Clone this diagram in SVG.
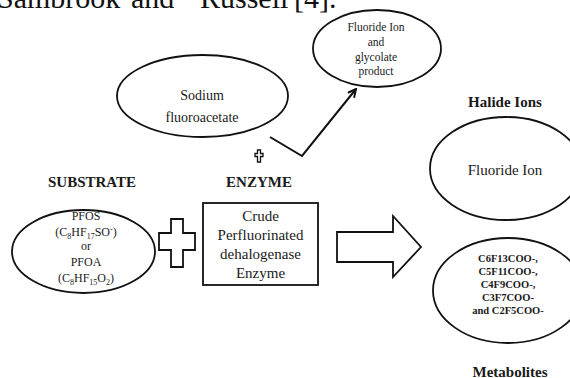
<svg xmlns="http://www.w3.org/2000/svg" width="570" height="378" viewBox="0 0 570 378">
<defs>
<style>
text{font-family:"Liberation Serif","Times New Roman",serif;fill:#1a1a1a;text-anchor:middle}
.shape{fill:#fff;stroke:#111;stroke-width:1.8}
.hdr{font-weight:bold;font-size:15px}
.t14{font-size:14px}
.t12{font-size:12px}
.t11{font-size:11.5px}
.t15{font-size:15px}
.met{font-size:10.5px;font-weight:bold}
.sub{font-size:8px}
.line{fill:none;stroke:#111;stroke-width:2}
</style>
<marker id="open" viewBox="0 0 10 10" refX="9" refY="5" markerWidth="5" markerHeight="5" orient="auto" markerUnits="strokeWidth">
<path d="M1,1 L9,5 L1,9" fill="none" stroke="#111" stroke-width="2"/>
</marker>
</defs>
<rect width="570" height="378" fill="#fff"/>
<text x="0" y="8" style="font-size:30px;text-anchor:start;fill:#111"><tspan x="-3">Sambrook</tspan><tspan x="131">and</tspan><tspan x="200">Russell</tspan><tspan x="294">[4].</tspan></text>

<g id="sodium">
<ellipse class="shape" cx="202.5" cy="96" rx="85.5" ry="41"/>
<text class="t14" x="202" y="100">Sodium</text>
<text class="t14" x="202" y="122">fluoroacetate</text>
</g>

<g id="product">
<ellipse class="shape" cx="377" cy="48.5" rx="64" ry="38.5"/>
<text class="t11" x="376" y="30.5">Fluoride Ion</text>
<text class="t11" x="376" y="46">and</text>
<text class="t11" x="376" y="61">glycolate</text>
<text class="t11" x="376" y="75">product</text>
</g>

<g id="small-cross">
<path d="M257.5,150 h3 v3.5 h2.5 v3 h-2.5 v5.5 h-3 v-5.5 h-2.5 v-3 h2.5 z" fill="#fff" stroke="#111" stroke-width="1.3"/>
</g>

<g id="substrate">
<text class="hdr" x="92" y="187">SUBSTRATE</text>
<ellipse class="shape" cx="83.5" cy="251.5" rx="71.5" ry="41.5"/>
<text class="t12" x="86" y="220">PFOS</text>
<text class="t12" x="86" y="236">(C<tspan class="sub" dy="2.5">8</tspan><tspan dy="-2.5">HF</tspan><tspan class="sub" dy="2.5">17</tspan><tspan dy="-2.5">SO</tspan><tspan class="sub" dy="-4">-</tspan><tspan dy="4">)</tspan></text>
<text class="t12" x="86" y="250">or</text>
<text class="t12" x="86" y="266">PFOA</text>
<text class="t12" x="86" y="282">(C<tspan class="sub" dy="2.5">8</tspan><tspan dy="-2.5">HF</tspan><tspan class="sub" dy="2.5">15</tspan><tspan dy="-2.5">O</tspan><tspan class="sub" dy="2.5">2</tspan><tspan dy="-2.5">)</tspan></text>
</g>

<g id="plus">
<polygon class="shape" points="171,219 183,219 183,233 195,233 195,250 183,250 183,267 171,267 171,250 159,250 159,233 171,233"/>
</g>

<g id="enzyme">
<text class="hdr" x="259" y="187">ENZYME</text>
<rect class="shape" x="203" y="203" width="115" height="82"/>
<text class="t15" x="260.5" y="221">Crude</text>
<text class="t15" x="260.5" y="240">Perfluorinated</text>
<text class="t15" x="260.5" y="259">dehalogenase</text>
<text class="t15" x="260.5" y="278">Enzyme</text>
</g>

<g id="block-arrow">
<polygon class="shape" points="337,232 393,232 393,216 421,247 393,277 393,262 337,262"/>
</g>

<g id="halide">
<text class="hdr" x="505" y="107">Halide Ions</text>
<ellipse class="shape" cx="506" cy="168.5" rx="76" ry="51.5"/>
<text class="t15" x="505" y="175">Fluoride Ion</text>
</g>

<g id="metabolites">
<ellipse class="shape" cx="508" cy="290.5" rx="75" ry="52.5"/>
<text class="met" x="508" y="261.5">C6F13COO-,</text>
<text class="met" x="508" y="275">C5F11COO-,</text>
<text class="met" x="508" y="288">C4F9COO-,</text>
<text class="met" x="508" y="300.5">C3F7COO-</text>
<text class="met" x="508" y="313.5">and C2F5COO-</text>
<text class="hdr" x="510" y="377">Metabolites</text>
</g>

<g id="connectors">
<polyline class="line" points="270,137 302,156 356,89" marker-end="url(#open)"/>
</g>
</svg>
